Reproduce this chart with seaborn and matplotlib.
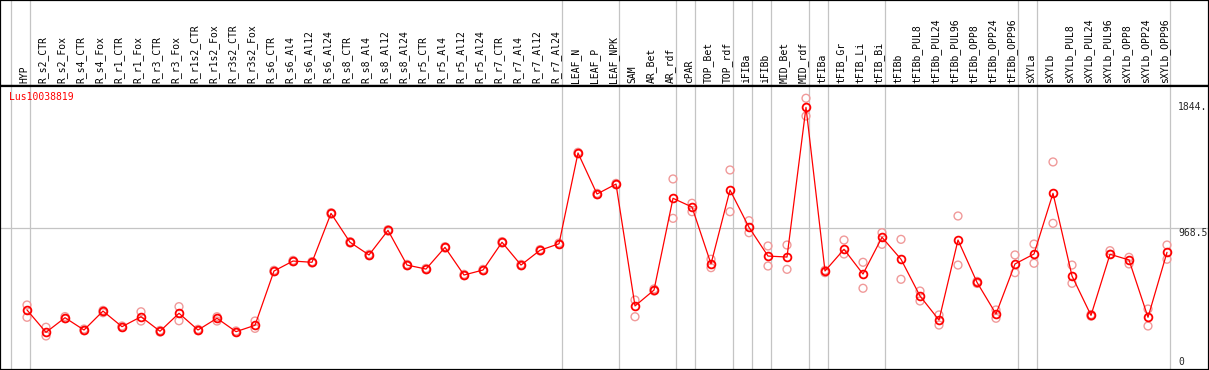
import numpy as np
import pandas as pd
import matplotlib
matplotlib.use("Agg")
import matplotlib.pyplot as plt
import matplotlib.transforms as mtransforms
import seaborn as sns

# ── Data ─────────────────────────────────────────────────────────────────────
samples = ["HYP",
           "R_s2_CTR", "R_s2_Fox", "R_s4_CTR", "R_s4_Fox", "R_r1_CTR", "R_r1_Fox",
           "R_r3_CTR", "R_r3_Fox", "R_r1s2_CTR", "R_r1s2_Fox", "R_r3s2_CTR", "R_r3s2_Fox",
           "R_s6_CTR", "R_s6_Al4", "R_s6_Al12", "R_s6_Al24",
           "R_s8_CTR", "R_s8_Al4", "R_s8_Al12", "R_s8_Al24",
           "R_r5_CTR", "R_r5_Al4", "R_r5_Al12", "R_r5_Al24",
           "R_r7_CTR", "R_r7_Al4", "R_r7_Al12", "R_r7_Al24",
           "LEAF_N", "LEAF_P", "LEAF_NPK",
           "SAM", "AR_Bet", "AR_rdf", "cPAR", "TOP_Bet", "TOP_rdf",
           "iFIBa", "iFIBb", "MID_Bet", "MID_rdf",
           "tFIBa", "tFIB_Gr", "tFIB_Li", "tFIB_Bi",
           "tFIBb", "tFIBb_PUL8", "tFIBb_PUL24", "tFIBb_PUL96",
           "tFIBb_OPP8", "tFIBb_OPP24", "tFIBb_OPP96",
           "sXYLa", "sXYLb", "sXYLb_PUL8", "sXYLb_PUL24", "sXYLb_PUL96",
           "sXYLb_OPP8", "sXYLb_OPP24", "sXYLb_OPP96"]

means = [378, 216, 322, 233, 370, 257, 329, 224, 354, 233, 318, 221, 267,
         660, 732, 723, 1077, 868, 776, 954, 703, 674, 831, 631, 667, 868, 703, 810, 857,
         1514, 1217, 1289,
         407, 522, 1186, 1123, 711, 1246, 976, 768, 761, 1844,
         660, 817, 638, 904,
         745, 479, 305, 884, 578, 349, 711,
         783, 1222, 624, 339, 781, 740, 325, 795]

rep_hi = [414, 253, 330, 240, 375, 262, 365, 230, 402, 238, 329, 226, 298,
          665, 737, 728, 1082, 873, 781, 959, 708, 679, 836, 636, 672, 873, 708, 815, 862,
          1519, 1222, 1294,
          450, 530, 1326, 1150, 745, 1391, 1024, 841, 848, 1910,
          665, 884, 723, 937,
          889, 515, 342, 1058, 585, 378, 776,
          855, 1449, 703, 345, 807, 759, 385, 848]

rep_lo = [325, 190, 315, 228, 358, 252, 298, 218, 300, 228, 298, 216, 245,
          655, 727, 718, 1072, 863, 771, 949, 698, 669, 826, 626, 662, 863, 698, 805, 852,
          1509, 1212, 1284,
          329, 515, 1041, 1089, 684, 1089, 937, 696, 672, 1781,
          648, 783, 535, 853,
          600, 443, 269, 703, 570, 318, 648,
          716, 1005, 571, 333, 781, 711, 262, 745]

group_ends = [-1, 0, 28, 31, 34, 35, 37, 38, 39, 41, 42, 45, 52, 53, 60]
gene = "Lus10038819"
ytick_vals = [1844, 968.5, 0]
ytick_txt = ["1844.", "968.5", "0"]

pos = np.arange(len(samples))
df = pd.DataFrame({"pos": pos, "mean": means})
reps = pd.DataFrame({"pos": np.concatenate([pos, pos]),
                     "val": np.concatenate([rep_hi, rep_lo])})

# ── Figure ───────────────────────────────────────────────────────────────────
sns.set_style("white")
plt.rcParams["font.family"] = ["DejaVu Sans Mono"]
W, H = 1209, 370
fig = plt.figure(figsize=(W / 100, H / 100), dpi=100)
fig.patch.set_facecolor("white")

top_px = 86
ax_lab = fig.add_axes([0, (H - top_px) / H, 1, top_px / H])
ax = fig.add_axes([0, 0, 1, (H - top_px) / H], sharex=ax_lab)

GRID = "#c4c4c4"
for a in (ax_lab, ax):
    for g in group_ends:
        a.axvline(g + 0.18, color=GRID, lw=0.9, zorder=0)
    for s in a.spines.values():
        s.set_visible(True)
        s.set_color("black")
        s.set_linewidth(1.6)
    a.set_xticks([])
    a.set_yticks([])
    a.set_xlabel("")
    a.set_ylabel("")

ax.axhline(968.5, color=GRID, lw=0.9, zorder=0)

# replicates
sns.scatterplot(data=reps, x="pos", y="val", ax=ax, marker="o", s=32,
                facecolors="none", edgecolors="#f09a9a", linewidths=1.0, zorder=2)
# mean line
sns.lineplot(data=df, x="pos", y="mean", ax=ax, color="red", lw=0.9,
             marker="o", markersize=5.6, markerfacecolor="none",
             markeredgecolor="red", markeredgewidth=1.3, zorder=3)

ax.set_xlim(-27 / 19, (W - 27) / 19)
ax.set_ylim(-56.4, 1998.6)
ax.set_xlabel("")
ax.set_ylabel("")

# sample labels
trans = mtransforms.blended_transform_factory(ax_lab.transData, ax_lab.transAxes)
for i, name in enumerate(samples):
    ax_lab.text(i - 0.15, 0.035, name, rotation=90, ha="center", va="bottom",
                fontsize=7, color="black", transform=trans)

ax.text(9 / W, 0.963, gene, color="red", fontsize=7, ha="left", va="center",
        transform=ax.transAxes)

ytr = ax.get_yaxis_transform()
for v, t in zip(ytick_vals, ytick_txt):
    va = "top" if t == "968.5" else "center"
    ax.text(1178 / W, v, t, fontsize=7, ha="left", va=va, transform=ytr)

fig.savefig("out.png", dpi=100, facecolor="white")
